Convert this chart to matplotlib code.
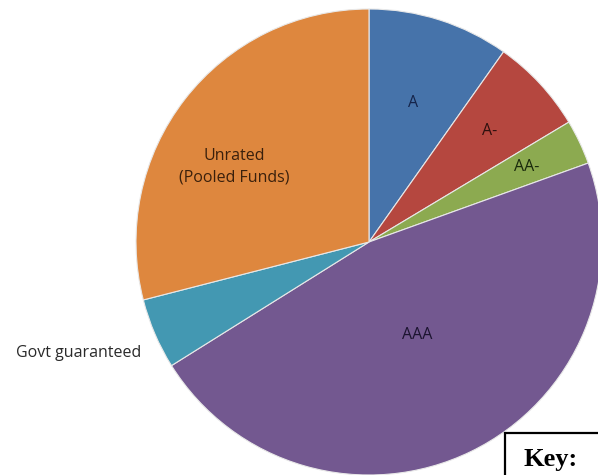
import matplotlib
matplotlib.use("Agg")
import matplotlib.pyplot as plt
from matplotlib.patches import Rectangle

# slices, clockwise from 12 o'clock
ratings = ["A", "A-", "AA-", "AAA", "Govt guaranteed", "Unrated\n(Pooled Funds)"]
shares = [9.8, 6.6, 3.1, 46.6, 4.9, 29.0]
colores = ["#4673AA", "#B5473F", "#8CAA50", "#735890", "#4398B2", "#DE873E"]
colores_texto = ["#15244A", "#2E100E", "#1A2A0C", "#1C1430", "#2A2A2A", "#3A200C"]

# label anchor points in pixel coords (x from left, y from top)
pos_etiquetas = [(413, 103), (490, 131), (527, 167), (417, 335), (79, 353), (234, 167)]

ancho, alto = 598, 475
centro = (369, alto - 242)
radio = 233

fig = plt.figure(figsize=(ancho / 100, alto / 100), dpi=100)
ax = fig.add_axes([0, 0, 1, 1])

ax.pie(shares, colors=colores, startangle=90, counterclock=False,
       center=centro, radius=radio, frame=True,
       wedgeprops={"edgecolor": "#e8e8e8", "linewidth": 0.8})
ax.set_xlim(0, ancho)
ax.set_ylim(0, alto)
ax.set_aspect("equal")
ax.axis("off")

for texto, (x, y), c in zip(ratings, pos_etiquetas, colores_texto):
    ax.text(x, alto - y, texto, ha="center", va="center", fontsize=11.5,
            family="Open Sans", color=c, linespacing=1.5)

# "Key:" box in the bottom right corner
ax.add_patch(Rectangle((505, -10), 120, alto - 433 + 10, fill=False,
                       edgecolor="black", linewidth=1.6, clip_on=True))
ax.text(524, alto - 466, "Key:", fontsize=19, fontweight="bold",
        family="Liberation Serif", ha="left", va="baseline", color="black")

fig.savefig("out.png", dpi=100)
